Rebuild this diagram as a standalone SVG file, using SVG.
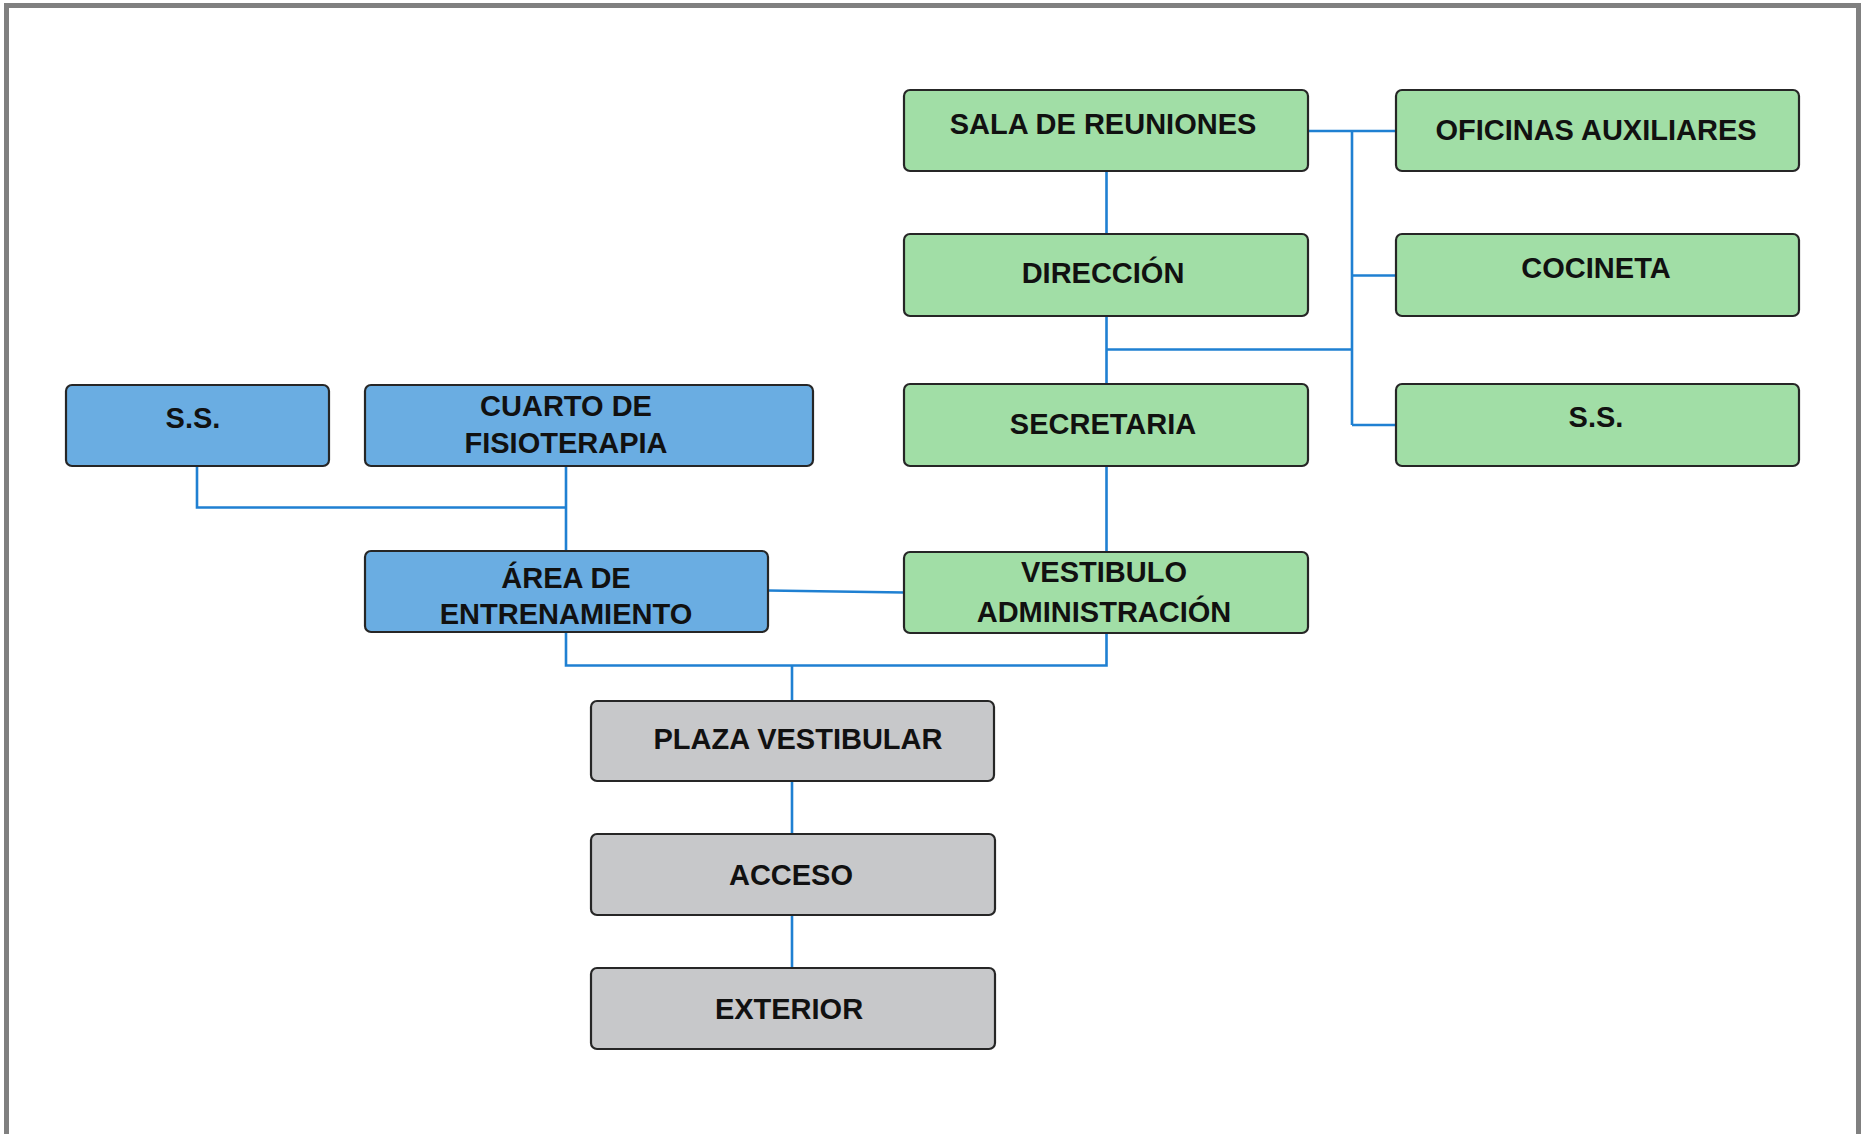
<svg xmlns="http://www.w3.org/2000/svg" width="1865" height="1134" viewBox="0 0 1865 1134">
<style>
.box{stroke:#262626;stroke-width:2.2}
.g{fill:#a1dea6}
.b{fill:#6aade2}
.y{fill:#c7c8ca}
.t{font-family:"Liberation Sans",Arial,sans-serif;font-weight:bold;font-size:29px;fill:#111;text-anchor:middle}
.c{fill:none;stroke:#1f80d2;stroke-width:2.6}
</style>
<rect x="0" y="0" width="1865" height="1134" fill="#ffffff"/>
<rect x="6.5" y="5.5" width="1852" height="1140" fill="none" stroke="#808080" stroke-width="5"/>
<g id="connectors">
<path class="c" d="M1106.5 171V234"/>
<path class="c" d="M1106.5 316V384"/>
<path class="c" d="M1106.5 349.5H1352"/>
<path class="c" d="M1352 131V425"/>
<path class="c" d="M1308 131H1396"/>
<path class="c" d="M1352 275.5H1396"/>
<path class="c" d="M1352 425H1396"/>
<path class="c" d="M1106.5 466V552"/>
<path class="c" d="M197 466V507.5H566"/>
<path class="c" d="M566 466V551"/>
<path class="c" d="M768 590.5L904 592.5"/>
<path class="c" d="M1106.5 633V665.5H566V632"/>
<path class="c" d="M792 665.5V701"/>
<path class="c" d="M792 781V834"/>
<path class="c" d="M792 915V968"/>
</g>
<g id="sala-reuniones"><rect class="box g" x="904" y="90" width="404" height="81" rx="6"/><text class="t" x="1103" y="134">SALA DE REUNIONES</text></g>
<g id="oficinas-auxiliares"><rect class="box g" x="1396" y="90" width="403" height="81" rx="6"/><text class="t" x="1596" y="140">OFICINAS AUXILIARES</text></g>
<g id="direccion"><rect class="box g" x="904" y="234" width="404" height="82" rx="6"/><text class="t" x="1103" y="283">DIRECCIÓN</text></g>
<g id="cocineta"><rect class="box g" x="1396" y="234" width="403" height="82" rx="6"/><text class="t" x="1596" y="278">COCINETA</text></g>
<g id="secretaria"><rect class="box g" x="904" y="384" width="404" height="82" rx="6"/><text class="t" x="1103" y="434">SECRETARIA</text></g>
<g id="ss-admin"><rect class="box g" x="1396" y="384" width="403" height="82" rx="6"/><text class="t" x="1596" y="427">S.S.</text></g>
<g id="ss-left"><rect class="box b" x="66" y="385" width="263" height="81" rx="6"/><text class="t" x="193" y="428">S.S.</text></g>
<g id="cuarto-fisioterapia"><rect class="box b" x="365" y="385" width="448" height="81" rx="6"/><text class="t" x="566" y="416">CUARTO DE</text><text class="t" x="566" y="453">FISIOTERAPIA</text></g>
<g id="area-entrenamiento"><rect class="box b" x="365" y="551" width="403" height="81" rx="6"/><text class="t" x="566" y="588">ÁREA DE</text><text class="t" x="566" y="624">ENTRENAMIENTO</text></g>
<g id="vestibulo-administracion"><rect class="box g" x="904" y="552" width="404" height="81" rx="6"/><text class="t" x="1104" y="582">VESTIBULO</text><text class="t" x="1104" y="622">ADMINISTRACIÓN</text></g>
<g id="plaza-vestibular"><rect class="box y" x="591" y="701" width="403" height="80" rx="6"/><text class="t" x="798" y="748.5">PLAZA VESTIBULAR</text></g>
<g id="acceso"><rect class="box y" x="591" y="834" width="404" height="81" rx="6"/><text class="t" x="791" y="885">ACCESO</text></g>
<g id="exterior"><rect class="box y" x="591" y="968" width="404" height="81" rx="6"/><text class="t" x="789" y="1018.5">EXTERIOR</text></g>
</svg>
